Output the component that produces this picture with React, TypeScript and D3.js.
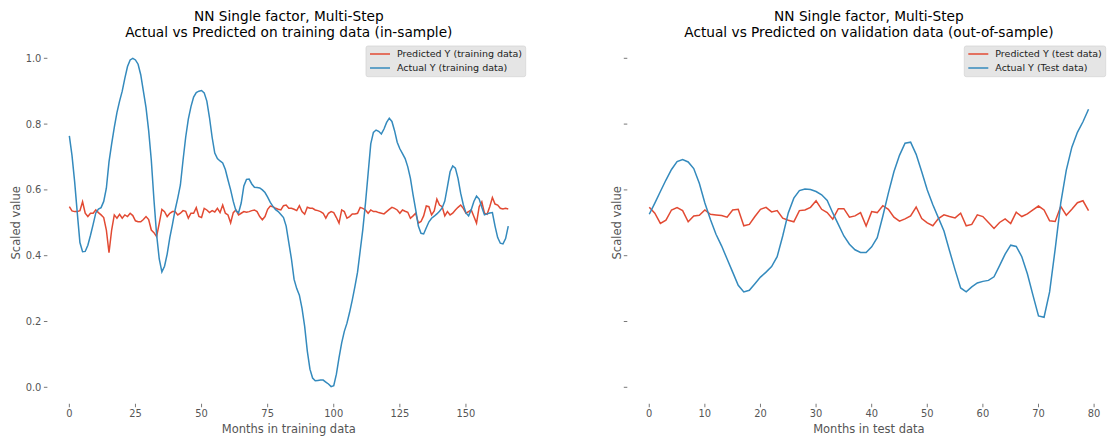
import React from "react";
import * as d3 from "d3";

const trainActual = [
  0.764, 0.705, 0.625, 0.53, 0.44, 0.412, 0.413, 0.432, 0.462, 0.495,
  0.53, 0.542, 0.546, 0.565, 0.605, 0.685, 0.74, 0.79, 0.835, 0.87,
  0.9, 0.94, 0.975, 0.995, 1.0, 0.995, 0.982, 0.95, 0.9, 0.85,
  0.78, 0.69, 0.57, 0.465, 0.39, 0.351, 0.368, 0.405, 0.455, 0.495,
  0.539, 0.575, 0.615, 0.69, 0.76, 0.815, 0.853, 0.882, 0.896, 0.9,
  0.902, 0.895, 0.87, 0.82, 0.76, 0.712, 0.695, 0.688, 0.682, 0.662,
  0.63, 0.6, 0.565, 0.537, 0.53, 0.56, 0.612, 0.632, 0.633, 0.618,
  0.608, 0.607, 0.606, 0.6, 0.592, 0.578, 0.562, 0.55, 0.54, 0.534,
  0.525, 0.516, 0.49, 0.44, 0.39, 0.328, 0.3, 0.28, 0.24, 0.185,
  0.11, 0.055, 0.028, 0.02, 0.021, 0.022, 0.022, 0.016, 0.01, 0.002,
  0.005, 0.04, 0.09, 0.135, 0.17, 0.195, 0.228, 0.265, 0.306, 0.35,
  0.415, 0.48, 0.56, 0.65, 0.74, 0.775, 0.782, 0.778, 0.77, 0.785,
  0.805, 0.818, 0.808, 0.78, 0.745, 0.725, 0.71, 0.695, 0.67, 0.635,
  0.585, 0.539, 0.49, 0.468, 0.466, 0.485, 0.503, 0.514, 0.52, 0.527,
  0.535, 0.545, 0.566, 0.61, 0.655, 0.673, 0.666, 0.635, 0.59, 0.555,
  0.53, 0.521, 0.54, 0.565, 0.581, 0.572, 0.547, 0.524, 0.527, 0.53,
  0.531, 0.49, 0.455, 0.438, 0.436, 0.452, 0.49,
];

const trainPredicted = [
  0.549, 0.536, 0.534, 0.534, 0.537, 0.564, 0.529, 0.519, 0.529, 0.529,
  0.539, 0.531, 0.524, 0.516, 0.478, 0.409, 0.478, 0.524, 0.514, 0.526,
  0.514, 0.524, 0.519, 0.529, 0.522, 0.506, 0.503, 0.503, 0.51, 0.519,
  0.51, 0.478, 0.47, 0.458, 0.498, 0.541, 0.534, 0.519, 0.529, 0.534,
  0.534, 0.524, 0.529, 0.537, 0.535, 0.514, 0.529, 0.529, 0.546, 0.519,
  0.516, 0.544, 0.539, 0.531, 0.537, 0.533, 0.544, 0.531, 0.554, 0.529,
  0.524, 0.5, 0.531, 0.539, 0.524, 0.529, 0.534, 0.532, 0.534, 0.537,
  0.539, 0.534, 0.519, 0.509, 0.519, 0.541, 0.551, 0.549, 0.544, 0.541,
  0.539, 0.552, 0.554, 0.544, 0.544, 0.541, 0.537, 0.552, 0.534, 0.526,
  0.547, 0.544, 0.544, 0.539, 0.537, 0.534, 0.529, 0.514, 0.529, 0.534,
  0.531, 0.516, 0.499, 0.539, 0.534, 0.514, 0.519, 0.527, 0.527, 0.529,
  0.547, 0.544, 0.539, 0.529, 0.539, 0.534, 0.534, 0.531, 0.529, 0.527,
  0.534, 0.541, 0.547, 0.544, 0.539, 0.529, 0.539, 0.535, 0.532, 0.514,
  0.521, 0.529, 0.499, 0.504, 0.521, 0.551, 0.549, 0.524, 0.536, 0.572,
  0.554, 0.549, 0.521, 0.534, 0.524, 0.529, 0.539, 0.547, 0.554, 0.544,
  0.529, 0.534, 0.539, 0.519, 0.499, 0.549, 0.564, 0.529, 0.526, 0.549,
  0.577, 0.557, 0.554, 0.544, 0.542, 0.544, 0.542,
];

const testActual = [
  0.526, 0.56, 0.595, 0.63, 0.662, 0.686, 0.692, 0.685, 0.665, 0.62,
  0.56, 0.51, 0.465, 0.43, 0.39, 0.35, 0.31, 0.29, 0.295, 0.315,
  0.335, 0.35, 0.367, 0.397, 0.46, 0.53, 0.575, 0.598, 0.603, 0.601,
  0.595, 0.585, 0.568, 0.53, 0.495, 0.46, 0.435, 0.418, 0.41, 0.41,
  0.427, 0.455, 0.52, 0.59, 0.655, 0.705, 0.742, 0.745, 0.708, 0.655,
  0.6, 0.555, 0.515, 0.475, 0.415, 0.357, 0.302, 0.29, 0.305, 0.317,
  0.322, 0.325, 0.336, 0.37, 0.405, 0.432, 0.428, 0.397, 0.345, 0.28,
  0.217, 0.213, 0.29, 0.42, 0.56, 0.66, 0.73, 0.775, 0.807, 0.845,
];

const testPredicted = [
  0.547, 0.529, 0.498, 0.508, 0.539, 0.546, 0.537, 0.503, 0.521, 0.523,
  0.539, 0.526, 0.524, 0.522, 0.517, 0.539, 0.541, 0.491, 0.495, 0.519,
  0.541, 0.547, 0.533, 0.537, 0.514, 0.508, 0.503, 0.537, 0.539, 0.547,
  0.567, 0.541, 0.531, 0.511, 0.543, 0.543, 0.517, 0.521, 0.531, 0.49,
  0.534, 0.531, 0.552, 0.541, 0.517, 0.505, 0.512, 0.521, 0.548, 0.513,
  0.5, 0.491, 0.513, 0.524, 0.519, 0.515, 0.529, 0.491, 0.495, 0.524,
  0.519, 0.501, 0.483, 0.501, 0.512, 0.498, 0.532, 0.519, 0.527, 0.539,
  0.551, 0.539, 0.506, 0.504, 0.55, 0.523, 0.541, 0.561, 0.567, 0.537,
];

const yTicks = [0.0, 0.2, 0.4, 0.6, 0.8, 1.0];
const trainXTicks = [0, 25, 50, 75, 100, 125, 150];
const testXTicks = [0, 10, 20, 30, 40, 50, 60, 70, 80];

const RED = "#E24A33";
const BLUE = "#348ABD";
const FONT = "DejaVu Sans, sans-serif";

type PanelProps = {
  x0: number;
  x1: number;
  actual: number[];
  predicted: number[];
  xTicks: number[];
  showYLabels: boolean;
  title2: string;
  xlabel: string;
  predLabel: string;
  actLabel: string;
  legendX: number;
  legendW: number;
};

const TOP = 41.85;
const BOTTOM = 403.75;

function Panel(p: PanelProps) {
  const n = p.actual.length - 1;
  const pad = n * 0.05;
  const x = d3.scaleLinear().domain([-pad, n + pad]).range([p.x0, p.x1]);
  const y = d3.scaleLinear().domain([-0.05, 1.05]).range([BOTTOM, TOP]);
  const line = d3
    .line<number>()
    .x((_, i) => x(i))
    .y((d) => y(d));
  const cx = (p.x0 + p.x1) / 2;
  const cy = (TOP + BOTTOM) / 2;
  return (
    <g>
      <text x={cx} y={21} textAnchor="middle" fontSize={13.7} fill="#000" fontFamily={FONT}>
        NN Single factor, Multi-Step
      </text>
      <text x={cx} y={36.5} textAnchor="middle" fontSize={13.7} fill="#000" fontFamily={FONT}>
        {p.title2}
      </text>
      {yTicks.map((t) => (
        <g key={"y" + t}>
          <line x1={p.x0 - 3.5} x2={p.x0} y1={y(t)} y2={y(t)} stroke="#555" strokeWidth={0.8} />
          {p.showYLabels && (
            <text x={p.x0 - 6} y={y(t)} dy="0.35em" textAnchor="end" fontSize={9.9} fill="#555" fontFamily={FONT}>
              {d3.format(".1f")(t)}
            </text>
          )}
        </g>
      ))}
      {p.xTicks.map((t) => (
        <g key={"x" + t}>
          <line x1={x(t)} x2={x(t)} y1={BOTTOM} y2={BOTTOM + 3.5} stroke="#555" strokeWidth={0.8} />
          <text x={x(t)} y={BOTTOM + 13.5} textAnchor="middle" fontSize={9.9} fill="#555" fontFamily={FONT}>
            {t}
          </text>
        </g>
      ))}
      <text x={cx} y={BOTTOM + 29} textAnchor="middle" fontSize={11.5} fill="#555" fontFamily={FONT}>
        {p.xlabel}
      </text>
      <text
        transform={`translate(${p.showYLabels ? 20 : p.x0 - 6}, ${cy}) rotate(-90)`}
        textAnchor="middle"
        fontSize={11.5}
        fill="#555"
        fontFamily={FONT}
      >
        Scaled value
      </text>
      <path d={line(p.predicted) || ""} fill="none" stroke={RED} strokeWidth={1.5} />
      <path d={line(p.actual) || ""} fill="none" stroke={BLUE} strokeWidth={1.5} />
      <g>
        <rect x={p.legendX} y={46} width={p.legendW} height={30.7} rx={2} fill="#E5E5E5" stroke="#d5d5d5" strokeWidth={0.8} />
        <line x1={p.legendX + 4} x2={p.legendX + 24} y1={54} y2={54} stroke={RED} strokeWidth={1.5} />
        <line x1={p.legendX + 4} x2={p.legendX + 24} y1={68} y2={68} stroke={BLUE} strokeWidth={1.5} />
        <text x={p.legendX + 31} y={54} dy="0.35em" fontSize={9.5} fill="#222" fontFamily={FONT}>
          {p.predLabel}
        </text>
        <text x={p.legendX + 31} y={68} dy="0.35em" fontSize={9.5} fill="#222" fontFamily={FONT}>
          {p.actLabel}
        </text>
      </g>
    </g>
  );
}

export default function App() {
  return (
    <svg
      width={1107}
      height={439}
      viewBox="0 0 1107 439"
      style={{ position: "absolute", left: 0, top: 0, background: "#fff" }}
    >
      <rect x={0} y={0} width={1107} height={439} fill="#fff" />
      <Panel
        x0={47.4}
        x1={530.2}
        actual={trainActual}
        predicted={trainPredicted}
        xTicks={trainXTicks}
        showYLabels={true}
        title2="Actual vs Predicted on training data (in-sample)"
        xlabel="Months in training data"
        predLabel="Predicted Y (training data)"
        actLabel="Actual Y (training data)"
        legendX={366}
        legendW={159.7}
      />
      <Panel
        x0={627.3}
        x1={1110.5}
        actual={testActual}
        predicted={testPredicted}
        xTicks={testXTicks}
        showYLabels={false}
        title2="Actual vs Predicted on validation data (out-of-sample)"
        xlabel="Months in test data"
        predLabel="Predicted Y (test data)"
        actLabel="Actual Y (Test data)"
        legendX={964.3}
        legendW={141.4}
      />
    </svg>
  );
}
